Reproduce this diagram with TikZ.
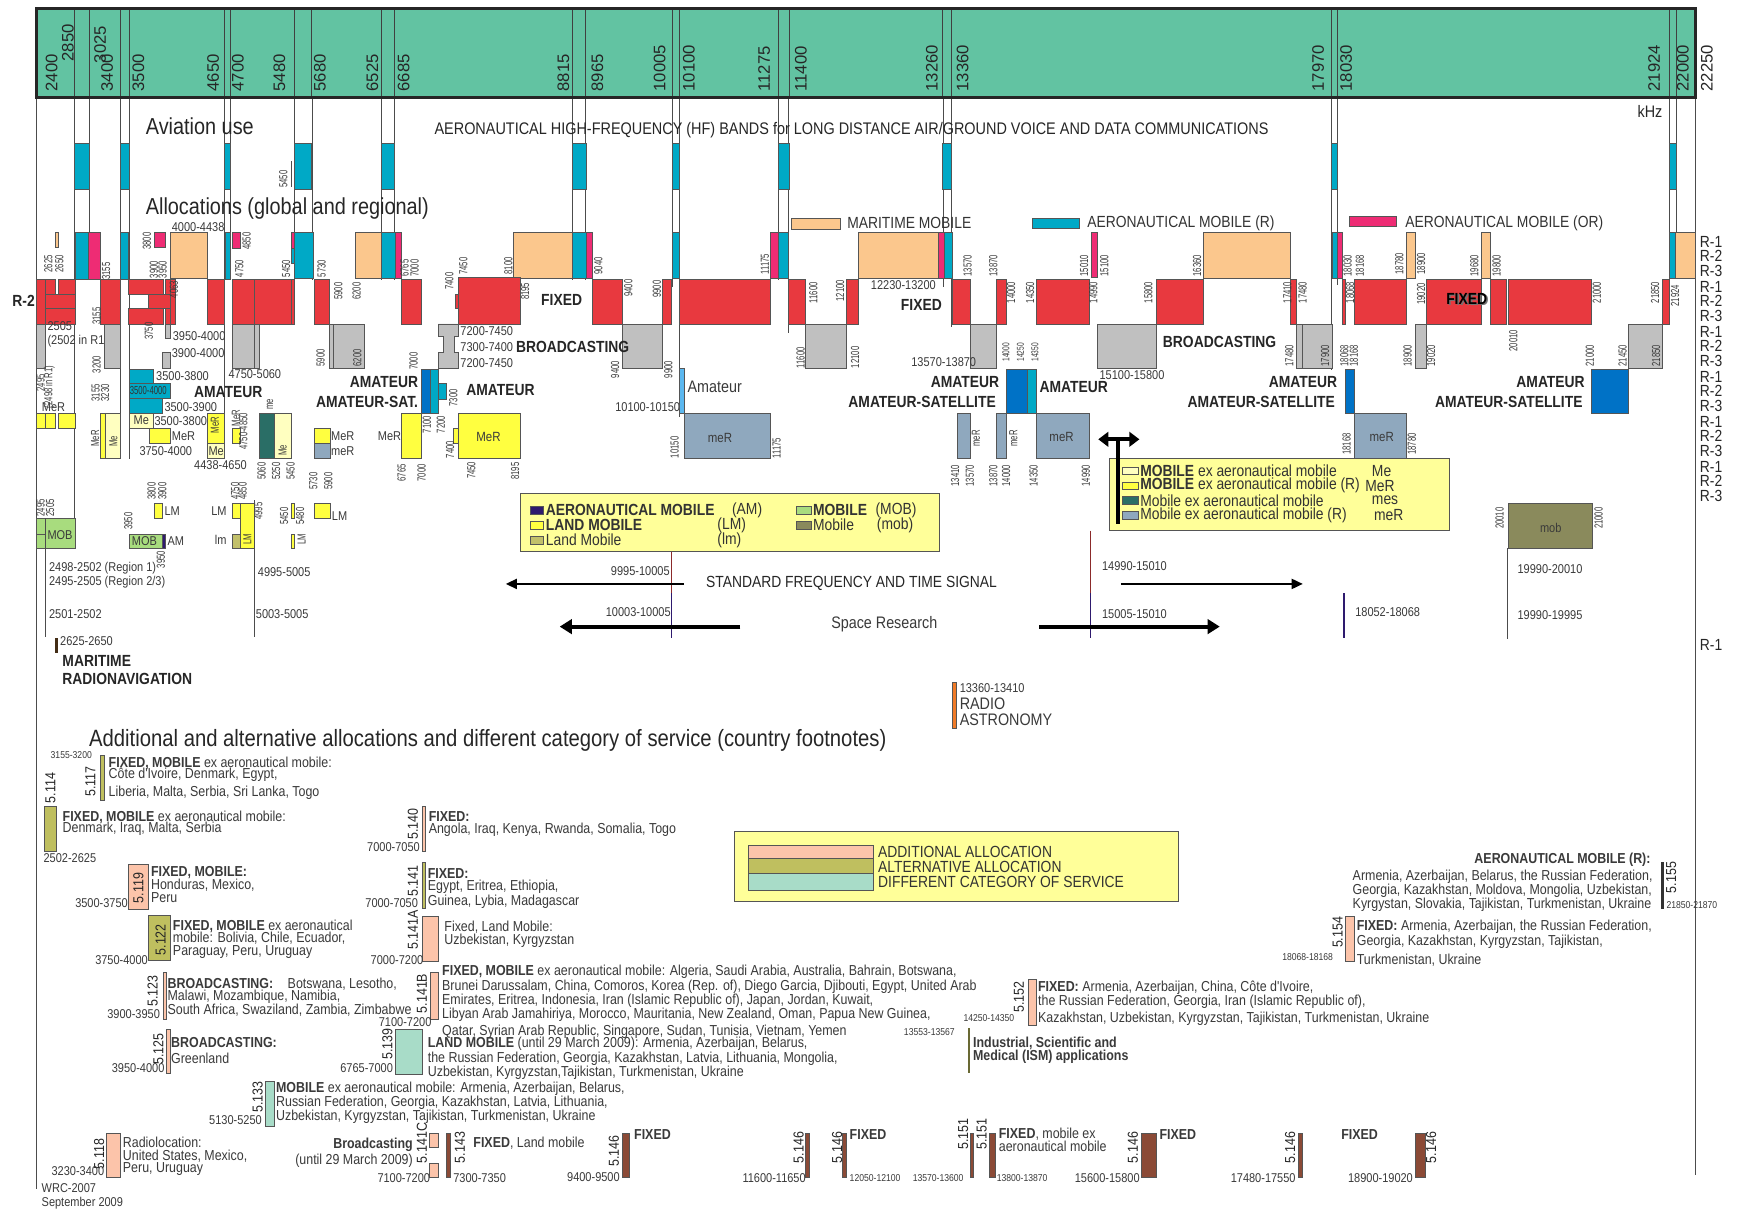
\documentclass[tikz,border=0pt]{standalone}
\usepackage{fontspec}
\setmainfont{Liberation Sans}
\newfontfamily\cn{Liberation Sans}[FakeStretch=0.86]
\newfontfamily\vn{Liberation Sans}[FakeStretch=0.66]
\usetikzlibrary{arrows.meta}
\definecolor{cBand}{HTML}{62C3A2}
\definecolor{cFix}{HTML}{E8393F}
\definecolor{cBro}{HTML}{C0C0C0}
\definecolor{cAmB}{HTML}{0072C6}
\definecolor{cCy}{HTML}{00A9C6}
\definecolor{cPk}{HTML}{EE2C74}
\definecolor{cOr}{HTML}{FBC78D}
\definecolor{cYe}{HTML}{FFFF40}
\definecolor{cLY}{HTML}{FFFFC0}
\definecolor{cGB}{HTML}{8FA8BE}
\definecolor{cTe}{HTML}{2A6E66}
\definecolor{cMob}{HTML}{A8DC7E}
\definecolor{cLm}{HTML}{C2C06A}
\definecolor{cAM}{HTML}{2E1A6E}
\definecolor{cMg}{HTML}{8A8A5C}
\definecolor{cLeg}{HTML}{FFFF99}
\definecolor{cPe}{HTML}{FCC4AA}
\definecolor{cAl}{HTML}{BFBF5F}
\definecolor{cDc}{HTML}{A8DCC8}
\definecolor{cBr}{HTML}{8B4A36}
\definecolor{cRa}{HTML}{F07B28}
\definecolor{cLB}{HTML}{5BB8F0}
\definecolor{cDR}{HTML}{8B2A2A}
\definecolor{txt}{HTML}{3A3A3A}
\definecolor{edge}{HTML}{555555}
\newcommand\bb[5]{\path[bx=#1] (#2,#3) rectangle (#4,#5);}
\tikzset{
 bx/.style={draw=edge,line width=0.5pt,fill=#1},
 vl/.style={draw=black!70,line width=0.6pt},
 vs/.style={rotate=90,anchor=west,inner sep=0pt,text=txt,font=\vn\fontsize{10.5}{10.5}\selectfont},
 vsm/.style={vs,font=\vn\fontsize{9}{9}\selectfont},
 hs/.style={anchor=west,inner sep=0pt,text=txt,font=\cn\fontsize{11.5}{11.5}\selectfont},
 hsm/.style={anchor=west,inner sep=0pt,text=txt,font=\cn\fontsize{9}{9}\selectfont},
 bl/.style={inner sep=0pt,text=black!85,font=\cn\bfseries\fontsize{14.5}{14.5}\selectfont},
 lg/.style={anchor=west,inner sep=0pt,text=black!80,font=\cn\fontsize{14.5}{14.5}\selectfont},
 fn/.style={anchor=north west,align=left,inner sep=0pt,text=txt,font=\cn\fontsize{13}{12}\selectfont},
 fnum/.style={rotate=90,anchor=west,inner sep=0pt,text=black!85,font=\cn\fontsize{13}{13}\selectfont},
 bandlab/.style={rotate=90,anchor=west,inner sep=0pt,text=black!85,font=\fontsize{15}{15}\selectfont},
 ttl/.style={anchor=west,inner sep=0pt,text=black!85,font=\cn\fontsize{20.8}{20}\selectfont},
 rl/.style={anchor=west,inner sep=0pt,text=black!85,font=\cn\fontsize{14.5}{14.5}\selectfont},
}
\begin{document}
\begin{tikzpicture}[x=1pt,y=-1pt]
\fill[white] (0,0) rectangle (1568,1089);
\useasboundingbox (0,0) rectangle (1568,1089);
% ---------- vertical band lines ----------
\foreach \x/\e in {33/1070,67/493,80/251,108/413,116/413,202/413,207/252,265/292,281/252,343/252,355/252,515/252,527/252,605/258,611/375,700/252,709/300,849/258,856/294,1198/333,1203/256,1502/292,1508/250,1525/1057}
  \draw[vl] (\x,88) -- (\x,\e);
% ---------- top band ----------
\fill[cBand] (33,8) rectangle (1525,88);
\foreach \x in {67,80,108,116,202,207,265,280,343,355,515,527,605,611,700,710,848,856,1198,1203,1502,1508}
  \draw[black!75,line width=0.6pt] (\x,8) -- (\x,88);
\draw[black!85,line width=2.6pt] (33,8) rectangle (1525,88);
\foreach \x/\y/\t in {46.5/82.5/2400,61/55.5/2850,90/57/3025,96.4/82.5/3400,124.6/82.5/3500,191.8/82.5/4650,214/82.5/4700,251.3/82.5/5480,287.8/82.5/5680,335/82.5/6525,363.2/82.5/6685,506.8/82.5/8815,537.3/82.5/8965,593.4/82.5/10005,619.8/82.5/10100,687.3/82.5/11275,720.4/82.5/11400,838.4/82.5/13260,866/82.5/13360,1185.7/82.5/17970,1211/82.5/18030,1488/82.5/21924,1514/82.5/22000,1535.6/82.5/22250}
  \node[bandlab] at (\x,\y) {\t};
% ---------- aviation use ----------
\foreach \a/\b in {67/80,108/116,202/207,265/280,343/355,515/527,605/611,700/710,848/856,1198/1203,1502/1508}
  \bb{cCy}{\a}{129}{\b}{170}
\draw[vl] (262,145) -- (262,168);
\node[vs] at (255,169) {5450};
\node[ttl] at (131,114) {Aviation use};
\node[inner sep=0pt,text=black!85,font=\cn\fontsize{15.1}{14}\selectfont] at (766,117) {AERONAUTICAL HIGH-FREQUENCY (HF) BANDS for LONG DISTANCE AIR/GROUND VOICE AND DATA COMMUNICATIONS};
\node[anchor=west,inner sep=0pt,text=black!85,font=\cn\fontsize{15}{15}\selectfont] at (1473,100) {kHz};
\node[ttl] at (131,188) {Allocations (global and regional)};
% legend row
\bb{cOr}{712}{196}{756}{206}
\node[lg] at (762,201) {MARITIME MOBILE};
\bb{cCy}{929}{196}{971}{205}
\node[lg] at (978,201) {AERONAUTICAL MOBILE (R)};
\bb{cPk}{1214}{195}{1256}{204}
\node[lg] at (1264,201) {AERONAUTICAL MOBILE (OR)};
% R labels
\foreach \k in {0,...,5} {
  \node[rl] at (1529,217.5+40.5*\k) {R-1};
  \node[rl] at (1529,230.5+40.5*\k) {R-2};
  \node[rl] at (1529,243.5+40.5*\k) {R-3};
}
\node[rl] at (1529,580) {R-1};
\node[bl,anchor=west] at (11,271) {R-2};
% ---------- mobile row ----------
\bb{cOr}{49.5}{209.3}{52.5}{222}
\bb{cCy}{68}{209.3}{79.5}{251}
\bb{cPk}{79.5}{209.3}{90}{251}
\bb{cCy}{108.5}{209.3}{115.5}{251}
\bb{cPk}{139}{209.3}{149}{222}
\bb{cOr}{153.5}{209.3}{186.5}{250.4}
\bb{cCy}{202.4}{209.3}{207}{251}
\bb{cPk}{209}{209.3}{216}{223.4}
\bb{cPk}{261.8}{209.3}{264.8}{223.4}
\bb{cCy}{261.8}{223.4}{264.8}{237}
\bb{cCy}{264.8}{209.3}{282}{250.4}
\bb{cOr}{319.3}{209.3}{343.3}{250.4}
\bb{cCy}{343.3}{209.3}{355.3}{250.4}
\bb{cPk}{355.3}{209.3}{360.7}{250.4}
\bb{cOr}{461.8}{209.3}{515.2}{250}
\bb{cCy}{515.2}{209.3}{527}{250}
\bb{cPk}{527}{209.3}{533}{250}
\bb{cCy}{605}{209.3}{611}{250}
\bb{cPk}{692.7}{209.3}{700.2}{250}
\bb{cCy}{700.2}{209.3}{709.2}{250}
\bb{cOr}{772.2}{209.3}{844.1}{250}
\bb{cPk}{844.1}{209.3}{849.2}{250}
\bb{cCy}{849.2}{209.3}{856.7}{250}
\bb{cPk}{982.1}{209.3}{987.5}{249}
\bb{cOr}{1082.5}{209.3}{1160.5}{250}
\bb{cCy}{1198.6}{209.3}{1203}{250}
\bb{cPk}{1203}{209.3}{1207.6}{250}
\bb{cOr}{1264.8}{209.3}{1273.5}{250}
\bb{cOr}{1332.6}{209.3}{1341}{250}
\bb{cCy}{1501.4}{209.3}{1507.4}{250}
\bb{cOr}{1507.4}{209.3}{1525}{250}
\node[hs] at (154.4,203.9) {4000-4438};
\node[hs] at (783.3,256.4) {12230-13200};
% ---------- fixed row ----------
\bb{cFix}{32.4}{251.3}{40.5}{291.4}
\bb{cFix}{40.5}{251.3}{49.5}{264.8}
\bb{cFix}{52.5}{251.3}{67.5}{264.8}
\bb{cFix}{40.5}{264.8}{67.5}{277.4}
\bb{cFix}{40.5}{277.4}{67.5}{291.4}
\bb{cFix}{90}{251.3}{108.5}{291.4}
\bb{cFix}{149}{251.3}{153.5}{291.4}
\bb{cFix}{153.5}{251.3}{158}{291.4}
\bb{cFix}{115.4}{251.3}{147}{264.8}
\bb{cFix}{133.4}{264.8}{153.5}{277.4}
\bb{cFix}{115.4}{277.4}{147}{291.4}
\bb{cFix}{186.5}{251.3}{201.5}{291.4}
\bb{cFix}{209}{251.3}{228.8}{291.4}
\bb{cFix}{228.8}{251.3}{261.8}{291.4}
\bb{cFix}{261.8}{251.3}{264.8}{291.4}
\bb{cFix}{282.8}{251.3}{296}{291.4}
\bb{cFix}{361.3}{251.3}{379.3}{291.4}
\bb{cFix}{409.4}{264.5}{412.4}{277.3}
\bb{cFix}{412.4}{249.5}{467.8}{291.4}
\bb{cFix}{532.9}{251.3}{559.9}{291.4}
\bb{cFix}{596.2}{251.3}{603.7}{291.4}
\bb{cFix}{610.9}{251.3}{692.7}{291.4}
\bb{cFix}{709.2}{251.3}{724.2}{291.4}
\bb{cFix}{761.7}{251.3}{772.2}{291.4}
\bb{cFix}{856.7}{251.3}{873.2}{291.4}
\bb{cFix}{896}{251.3}{905}{291.4}
\bb{cFix}{932}{251.3}{980}{291.4}
\bb{cFix}{1040.5}{251.3}{1082.5}{291.4}
\bb{cFix}{1161}{251.3}{1166.5}{291.4}
\bb{cFix}{1207.6}{251.3}{1210.6}{291.4}
\bb{cFix}{1218}{251.3}{1264.8}{291.4}
\bb{cFix}{1282.8}{251.3}{1332.6}{291.4}
\bb{cFix}{1341}{251.3}{1355.4}{291.4}
\bb{cFix}{1356.9}{251.3}{1431.9}{291.4}
\bb{cFix}{1495.4}{251.3}{1501.4}{291.4}
\node[bl,anchor=west] at (486.7,269.9) {FIXED};
\node[bl,anchor=west] at (810.3,274.4) {FIXED};
\node[bl,text=black!55] at (1320.9,270) {FIXED};
\node[bl,text=black] at (1319.4,269) {FIXED};
% ---------- broadcasting row ----------
\bb{cBro}{32.4}{291.4}{40.5}{331.3}
\bb{cBro}{93.6}{291.4}{108.5}{331.3}
\bb{cBro}{149}{291.4}{153.5}{304.3}
\bb{cBro}{146}{317.2}{153.5}{331.3}
\bb{cBro}{209}{291.4}{228.8}{331.3}
\bb{cBro}{228.8}{291.4}{233.3}{331.3}
\bb{cBro}{296}{291.4}{299.9}{331.3}
\bb{cBro}{299.9}{291.4}{327.4}{331.3}
\path[bx=cBro] (394.4,291.4)--(412.4,291.4)--(412.4,302.8)--(408.5,302.8)--(408.5,317.2)--(412.4,317.2)--(412.4,331.3)--(394.4,331.3)--(394.4,317.2)--(398.9,317.2)--(398.9,302.8)--(394.4,302.8)--cycle;
\bb{cBro}{559.9}{291.4}{596.2}{331.3}
\bb{cBro}{724.2}{291.4}{761.7}{331.3}
\bb{cBro}{873.2}{291.4}{896}{331.3}
\bb{cBro}{987.5}{291.4}{1040.5}{331.3}
\bb{cBro}{1166.5}{291.4}{1171.6}{331.3}
\bb{cBro}{1171.6}{291.4}{1198.6}{331.3}
\bb{cBro}{1273.5}{291.4}{1282.8}{331.3}
\bb{cBro}{1464.8}{291.4}{1495.4}{331.3}
\node[bl,anchor=west] at (464,312) {BROADCASTING};
\node[bl,anchor=west] at (1046,307.8) {BROADCASTING};
\foreach \x/\y/\t in {42.6/293.8/2505,155.3/302.8/3950-4000,154.4/317.8/3900-4000,205.4/336.4/4750-5060,414/298.3/7200-7450,414/311.8/7300-7400,414/326.8/7200-7450,819.6/325.6/13570-13870,989/337.6/15100-15800,140.3/337.9/3500-3800,147.8/365.8/3500-3900,553.3/365.8/10100-10150,138.8/378.7/3500-3800,125.3/405.4/3750-4000,174.5/418.3/4438-4650}
  \node[hs] at (\x,\y) {\t};
\node[hs] at (42.6,307.3) {(2502 in R1};
% ---------- amateur row ----------
\bb{cCy}{116}{332.2}{138}{344.8}
\bb{cCy}{116}{344.8}{153.5}{358.3}
\bb{cCy}{116}{358.3}{146}{371.8}
\node[anchor=west,inner sep=0pt,text=black!80,font=\vn\fontsize{10.5}{10.5}\selectfont] at (116.6,351.4) {3500-4000};
\bb{cAmB}{379.4}{332.2}{386.9}{371.8}
\bb{cCy}{386.9}{332.2}{394.4}{371.8}
\bb{cCy}{394.4}{344.8}{401.9}{359.2}
\bb{cLB}{610.9}{331.3}{615.4}{371.8}
\bb{cAmB}{905}{332.2}{924.5}{371.8}
\bb{cCy}{924.5}{332.2}{932}{371.8}
\bb{cAmB}{1210.6}{332.2}{1218}{371.8}
\bb{cAmB}{1431.9}{332.2}{1464.8}{371.8}
\node[bl] at (205.4,352.3) {AMATEUR};
\node[bl,anchor=east] at (376.3,343.3) {AMATEUR};
\node[bl,anchor=east] at (376.3,361.3) {AMATEUR-SAT.};
\node[bl,anchor=west] at (419.3,350.8) {AMATEUR};
\node[lg,text=txt,font=\cn\fontsize{15}{15}\selectfont] at (618.4,347.8) {Amateur};
\node[bl,anchor=east] at (899,343.3) {AMATEUR};
\node[bl,anchor=east] at (896,361.3) {AMATEUR-SATELLITE};
\node[bl,anchor=west] at (935,348.4) {AMATEUR};
\node[bl,anchor=east] at (1203,343.3) {AMATEUR};
\node[bl,anchor=east] at (1201,361.3) {AMATEUR-SATELLITE};
\node[bl,anchor=east] at (1425.8,343.3) {AMATEUR};
\node[bl,anchor=east] at (1423.8,361.3) {AMATEUR-SATELLITE};
% ---------- mobile ex row ----------
\bb{cYe}{32.4}{371.8}{40.5}{385.3}
\bb{cYe}{40.5}{371.8}{49.5}{385.3}
\bb{cYe}{52.5}{371.8}{67.5}{385.3}
\bb{cYe}{90.5}{371.8}{95}{412.3}
\bb{cLY}{95}{371.8}{108}{412.3}
\bb{cLY}{116}{371.8}{138}{385.3}
\bb{cYe}{134}{385.3}{153.5}{398.8}
\bb{cYe}{186.5}{371.8}{201.5}{398.8}
\bb{cLY}{186.5}{398.8}{201.5}{412.3}
\bb{cYe}{209}{385.3}{216.5}{398.8}
\bb{cTe}{233.3}{371.8}{247}{412.3}
\bb{cLY}{247}{371.8}{261.8}{412.3}
\bb{cYe}{282.8}{385.3}{296.9}{398.8}
\bb{cGB}{282.8}{398.8}{296.9}{412.3}
\bb{cYe}{361.3}{371.8}{379.3}{412.3}
\bb{cYe}{407.9}{385.3}{412.4}{398.8}
\bb{cYe}{412.4}{371.8}{467.8}{412.3}
\bb{cGB}{615.4}{371.8}{692.7}{412.3}
\bb{cGB}{861.2}{371.8}{873.2}{412.3}
\bb{cGB}{896}{371.8}{905}{412.3}
\bb{cGB}{932}{371.8}{980}{412.3}
\bb{cGB}{1218}{371.8}{1264.8}{412.3}
\foreach \x/\y/\t in {37.5/366.4/MeR,120/378.4/Me,154.4/392.8/MeR,187.4/406.3/Me,297.7/392.8/MeR,297.7/406.3/meR}
  \node[hs] at (\x,\y) {\t};
\node[hs,anchor=east] at (361,392.8) {MeR};
\foreach \x/\y/\t in {439.4/392.8/MeR,647.7/394/meR,955/392.8/meR,1243/392.8/meR}
  \node[inner sep=0pt,text=txt,font=\cn\fontsize{12}{12}\selectfont] at (\x,\y) {\t};
\foreach \x/\y/\t in {85.5/401.8/MeR,102/401.8/Me,193.4/389.8/MeR,212.3/383.8/MeR,218.9/404.8/4750-4850,242.9/368.8/me,254.3/410/Me,878/401.8/meR,911.6/401.8/meR}
  \node[vs] at (\x,\y) {\t};
% double arrow and its stem
\draw[black,line width=3.5pt] (1005.5,395.2) -- (1005.5,471.4);
\draw[black,line width=3.5pt,{Triangle[width=13pt,length=9pt]}-{Triangle[width=13pt,length=9pt]}] (988,395.2) -- (1025,395.2);
% ---------- rotated frequency labels ----------
\foreach \x/\y/\t in {43.5/245.3/2625,53.4/245.3/2650,95.4/251.9/3155,132/224.9/3800,138.5/250.4/3900,146.3/250.4/3950,156.5/268.4/4063,215.3/249.5/4750,221.9/224.9/4850,257.3/249.5/5450,289.4/249.5/5730,304.3/269.9/5900,320.8/269.9/6200,364/249/6765,373/249/7000,404.3/260.9/7400,416.9/247.4/7450,457.3/247/8100,472.3/270/8195,538.3/247/9040,565.3/267/9400,590.8/268/9900,688.2/247/11175,731.7/273/11600,755.7/271.4/12100,870.5/248.9/13570,893.6/248.9/13870,909.5/272.9/14000,926.6/272.9/14350,975.2/248.9/15010,993.5/248.9/15100,983.6/272.9/14990,1033/272.9/15800,1077/248.9/16360,1158/272.9/17410,1171.9/272.9/17480,1212.4/248.9/18030,1223.4/248.9/18168,1214.5/272.9/18068,1258.8/247/18780,1278.3/247/18900,1278.3/274.4/19020,1326.3/248.9/19680,1346.4/248.9/19800,1436.4/272.9/21000,1488.8/272.9/21850,1506.8/275.8/21924}
  \node[vs] at (\x,\y) {\t};
\foreach \x/\y/\t in {87/292.3/3155,87/335.8/3200,134/305.8/3750,288.5/329.8/5900,321.4/329.8/6200,372/332.8/7000,553.3/340.3/9400,601.3/340.3/9900,720.3/331.3/11600,769.2/331.3/12100,1159.9/329.8/17480,1192/329.8/17900,1209.4/329.8/18068,1218/329.8/18168,1266.3/329.8/18900,1287.3/329.8/19020,1361.4/316.3/20010,1430.3/329.8/21000,1459.7/329.8/21450,1489.7/329.8/21850}
  \node[vs] at (\x,\y) {\t};
\foreach \x/\y/\t in {905/325.3/14000,918/325.3/14250,931/325.3/14350}
  \node[vsm] at (\x,\y) {\t};
\foreach \x/\y/\t in {36.6/352.3/2495,86/361.3/3155,94.5/361.3/3230,383.9/389.8/7100,396.5/389.8/7200,407.9/365.8/7300}
  \node[vs] at (\x,\y) {\t};
\node[vs] at (44.4,367.3) {(2498 in R1)};
\foreach \x/\y/\t in {235.4/431.8/5060,248.3/431.8/5250,261.5/431.8/5450,361.3/433.3/6765,379.3/433.3/7000,404.9/412.3/7400,424/431/7450,463.4/431.8/8195,606.8/412.3/10150,698.6/412.3/11175,859.2/437.8/13410,872.4/437.8/13570,893.6/437.8/13870,905.1/437.8/14000,929.8/437.8/14350,976.8/437.8/14990,1211.5/409.3/18168,1270/409.3/18780}
  \node[vs] at (\x,\y) {\t};
\foreach \x/\y/\t in {36.6/464.8/2495,45/464.8/2505,136.4/449.8/3800,146/449.8/3900,115.4/476.8/3950,144.8/511.2/3950,211.4/449.8/4750,218.3/449.8/4850,232.4/467.8/4995,255.5/472.3/5450,269.9/472.3/5480,281.9/440.8/5730,295.4/440.8/5900,1349/476/20010,1438/476/21000}
  \node[vs] at (\x,\y) {\t};
% ---------- LM / MOB row ----------
\bb{cMob}{32.4}{466.3}{40.5}{493.3}
\bb{cMob}{40.5}{466.3}{67.5}{493.3}
\draw[edge,line width=0.5pt] (32.4,480.4) -- (40.5,480.4);
\node[inner sep=0pt,text=txt,font=\cn\fontsize{11.5}{11.5}\selectfont] at (54,481) {MOB};
\bb{cYe}{138.5}{452.8}{146}{466.3}
\bb{cMob}{116}{480.4}{146}{493.3}
\bb{cAM}{146}{480.4}{149}{493.3}
\node[inner sep=0pt,text=txt,font=\cn\fontsize{11.5}{11.5}\selectfont] at (130,487) {MOB};
\bb{cYe}{209}{452.8}{216.5}{466.3}
\bb{cYe}{216.5}{452.8}{228.8}{493.3}
\bb{cLm}{209}{480.4}{216.5}{493.3}
\bb{cYe}{261.8}{452.8}{264.8}{466.3}
\bb{cYe}{261.8}{480.4}{264.8}{493.3}
\bb{cYe}{282.8}{452.8}{296.9}{466.3}
\bb{cMg}{1357}{453}{1432}{493}
\node[inner sep=0pt,text=txt,font=\cn\fontsize{11.5}{11.5}\selectfont] at (1395,475) {mob};
\foreach \x/\y/\t in {147.8/459.5/LM,150.5/486.7/AM,298.4/464/LM}
  \node[hs] at (\x,\y) {\t};
\node[hs,anchor=east] at (204,459.5) {LM};
\node[hs,anchor=east] at (204,486) {lm};
\node[vs] at (222.6,490) {LM};
\node[vs] at (271.4,490.3) {LM};
% ---------- legends 1 and 2 ----------
\path[fill=cLeg,draw=edge,line width=0.8pt] (468,443.8) rectangle (844.7,496.3);
\bb{cAM}{477}{455.5}{489}{462.5}
\bb{cYe}{477}{469}{489}{476}
\bb{cLm}{477}{482.3}{489}{489.3}
\bb{cMob}{716}{455.5}{730}{462.5}
\bb{cMg}{716}{469}{730}{476}
\node[lg,font=\cn\bfseries\fontsize{14.5}{14.5}\selectfont] at (490.9,459) {AERONAUTICAL MOBILE};
\node[lg] at (658.4,459) {(AM)};
\node[lg,font=\cn\bfseries\fontsize{14.5}{14.5}\selectfont] at (490.9,472.4) {LAND MOBILE};
\node[lg] at (645.2,472.4) {(LM)};
\node[lg] at (490.9,485.8) {Land Mobile};
\node[lg] at (645.2,485.8) {(lm)};
\node[lg,font=\cn\bfseries\fontsize{14.5}{14.5}\selectfont] at (731.3,459) {MOBILE};
\node[lg] at (787.5,459) {(MOB)};
\node[lg] at (731.3,472.4) {Mobile};
\node[lg] at (788.7,472.4) {(mob)};
\path[fill=cLeg,draw=edge,line width=0.8pt] (998.1,412.3) rectangle (1303.9,477.4);
\draw[black,line width=3.5pt] (1005.5,405) -- (1005.5,471.4);
\bb{cLY}{1010}{420.2}{1024}{426.8}
\bb{cYe}{1010}{433.5}{1024}{440.1}
\bb{cTe}{1010}{446.8}{1024}{453.4}
\bb{cGB}{1010}{460.1}{1024}{466.7}
\node[lg] at (1025.6,423.5) {\textbf{MOBILE} ex aeronautical mobile};
\node[lg] at (1025.6,436.8) {\textbf{MOBILE} ex aeronautical mobile (R)};
\node[lg] at (1025.6,450.1) {Mobile ex aeronautical mobile};
\node[lg] at (1025.6,463.4) {Mobile ex aeronautical mobile (R)};
\node[lg] at (1234,423.5) {Me};
\node[lg] at (1228,436.8) {MeR};
\node[lg] at (1234,450.1) {mes};
\node[lg] at (1236,463.4) {meR};
% ---------- standard frequency / space research ----------
\draw[cDR,line width=1pt] (604,496.3) -- (604,533.7);
\draw[cAM,line width=1pt] (604,533.7) -- (604,574.2);
\draw[cDR,line width=1pt] (980.9,477.4) -- (980.9,533.7);
\draw[cAM,line width=1pt] (980.9,533.7) -- (980.9,574.2);
\draw[cAM,line width=1.4pt] (1209.2,533.7) -- (1209.2,574.2);
\draw[black!70,line width=1pt] (1356,493) -- (1356,575);
\draw[vl] (40.5,466.3) -- (40.5,572.7);
\draw[vl] (228.8,449.8) -- (228.8,572.7);
\draw[black,line width=1.8pt,-{Triangle[width=9pt,length=10pt]}] (615.4,525.3) -- (455,525.3);
\draw[black,line width=1.8pt,-{Triangle[width=9pt,length=10pt]}] (1008.4,525.3) -- (1172,525.3);
\draw[black,line width=3.6pt,-{Triangle[width=13pt,length=11pt]}] (666,563.7) -- (503.5,563.7);
\draw[black,line width=3.6pt,-{Triangle[width=13pt,length=11pt]}] (935,563.7) -- (1097.3,563.7);
\node[inner sep=0pt,text=black!85,font=\cn\fontsize{14.5}{14.5}\selectfont] at (766,525) {STANDARD FREQUENCY AND TIME SIGNAL};
\node[inner sep=0pt,text=txt,font=\cn\fontsize{15}{15}\selectfont] at (795.5,561.3) {Space Research};
\foreach \x/\y/\t in {549.4/514.2/9995-10005,544.8/550.2/10003-10005,991.2/509.7/14990-15010,991.2/552.6/15005-15010,1219/550.2/18052-18068,1365/512/19990-20010,1365/553/19990-19995,44/552.6/2501-2502,54/576.3/2625-2650,231.8/514.5/4995-5005,230/552.6/5003-5005,863.2/619.2/13360-13410}
  \node[hs] at (\x,\y) {\t};
\node[hs] at (44,511.2) {2498-2502 (Region 1)};
\node[hs] at (44,524.1) {2495-2505 (Region 2/3)};
\fill[black!65!brown] (49.5,574.2) rectangle (52.5,587.7);
\node[bl,anchor=west] at (56,594.3) {MARITIME};
\node[bl,anchor=west] at (56,611.1) {RADIONAVIGATION};
\bb{cRa}{856.4}{614.1}{860.5}{655.2}
\node[lg,text=txt,font=\cn\fontsize{15}{15}\selectfont] at (863.2,633.3) {RADIO};
\node[lg,text=txt,font=\cn\fontsize{15}{15}\selectfont] at (863.2,647.7) {ASTRONOMY};
% ---------- footnotes ----------
\node[ttl,font=\cn\fontsize{21.2}{20}\selectfont] at (80,666) {Additional and alternative allocations and different category of service (country footnotes)};
\bb{cAl}{90.4}{679.2}{93.6}{719.7}
\node[hsm] at (45.4,679.2) {3155-3200};
\node[fnum] at (81.5,716.7) {5.117};
\node[fn] at (97.6,681) {\textbf{FIXED, MOBILE} ex aeronautical mobile:\\[-2pt]Côte d'Ivoire, Denmark, Egypt,\\[3pt]Liberia, Malta, Serbia, Sri Lanka, Togo};
\bb{cAl}{40.2}{725.1}{50.2}{766.1}
\node[fnum] at (45.4,722.7) {5.114};
\node[hs] at (39,772.1) {2502-2625};
\node[fn] at (56.2,729) {\textbf{FIXED, MOBILE} ex aeronautical mobile:\\[-2pt]Denmark, Iraq, Malta, Serbia};
\bb{cPe}{115.7}{777.2}{133.7}{818}
\node[fnum] at (124.5,812.6) {5.119};
\node[hs] at (67.5,812) {3500-3750};
\node[fn] at (135.7,779) {\textbf{FIXED, MOBILE:}\\Honduras, Mexico,\\Peru};
\bb{cAl}{133.7}{823.1}{153.4}{863.6}
\node[fnum] at (144.6,859.6) {5.122};
\node[hs] at (85.5,863.6) {3750-4000};
\node[fn] at (155.4,827) {\textbf{FIXED, MOBILE} ex aeronautical\\[-0.5pt]mobile: Bolivia, Chile, Ecuador,\\[-0.5pt]Paraguay, Peru, Uruguay};
\bb{cPe}{146.6}{875}{149.4}{917}
\node[fnum] at (137.3,905.6) {5.123};
\node[hs] at (96.4,912.2) {3900-3950};
\node[fn] at (150.6,879.6) {\textbf{BROADCASTING:}\quad Botswana, Lesotho,\\[-1pt]Malawi, Mozambique, Namibia,\\[-1pt]South Africa, Swaziland, Zambia, Zimbabwe};
\bb{cPe}{149.4}{926}{153.4}{965.6}
\node[fnum] at (142.6,958) {5.125};
\node[hs] at (100.4,960.5) {3950-4000};
\node[fn] at (153.8,933) {\textbf{BROADCASTING:}\\[2pt]Greenland};
\bb{cDc}{238.2}{973}{247}{1013.5}
\node[fnum] at (231.7,1001) {5.133};
\node[hs] at (188,1007.5) {5130-5250};
\node[fn] at (248.2,973.4) {\textbf{MOBILE} ex aeronautical mobile: Armenia, Azerbaijan, Belarus,\\[-0.5pt]Russian Federation, Georgia, Kazakhstan, Latvia, Lithuania,\\[-0.5pt]Uzbekistan, Kyrgyzstan, Tajikistan, Turkmenistan, Ukraine};
\bb{cPe}{95.2}{1019.5}{108.4}{1059.1}
\node[fnum] at (89.2,1052) {5.118};
\node[hs] at (46.2,1053.4) {3230-3400};
\node[fn] at (110.4,1023) {Radiolocation:\\[-1pt]United States, Mexico,\\[-0.5pt]Peru, Uruguay};
\node[hs] at (37.3,1069) {WRC-2007};
\node[hs] at (37.3,1082) {September 2009};
\bb{cPe}{379.5}{725.7}{382.3}{766.1}
\node[fnum] at (371.5,755.6) {5.140};
\node[hs] at (330.1,761.7) {7000-7050};
\node[fn] at (385.5,730.3) {\textbf{FIXED:}\\[-1.3pt]Angola, Iraq, Kenya, Rwanda, Somalia, Togo};
\bb{cAl}{379.5}{776}{382.3}{817.1}
\node[fnum] at (371.5,806.6) {5.141};
\node[hs] at (328.5,812) {7000-7050};
\node[fn] at (384.7,781.2) {\textbf{FIXED:}\\[-1pt]Egypt, Eritrea, Ethiopia,\\Guinea, Lybia, Madagascar};
\bb{cPe}{379.5}{824.6}{394.4}{865.1}
\node[fnum] at (371.5,854.6) {5.141A};
\node[hs] at (333.3,863.6) {7000-7200};
\node[fn] at (399.6,828) {Fixed, Land Mobile:\\Uzbekistan, Kyrgyzstan};
\bb{cPe}{386.7}{875}{394.4}{917}
\node[fnum] at (379.5,911.6) {5.141B};
\node[hs] at (340.6,919.1) {7100-7200};
\node[fn] at (397.6,868.2) {\textbf{FIXED, MOBILE} ex aeronautical mobile: Algeria, Saudi Arabia, Australia, Bahrain, Botswana,\\Brunei Darussalam, China, Comoros, Korea (Rep. of), Diego Garcia, Djibouti, Egypt, United Arab\\[-0.5pt]Emirates, Eritrea, Indonesia, Iran (Islamic Republic of), Japan, Jordan, Kuwait,\\[-0.5pt]Libyan Arab Jamahiriya, Morocco, Mauritania, New Zealand, Oman, Papua New Guinea,\\[2.4pt]Qatar, Syrian Arab Republic, Singapore, Sudan, Tunisia, Vietnam, Yemen};
\bb{cDc}{355.4}{926}{379.5}{966.2}
\node[fnum] at (348.6,953.6) {5.139};
\node[hs] at (306,961.1) {6765-7000};
\node[fn] at (384.7,933) {\textbf{LAND MOBILE} (until 29 March 2009): Armenia, Azerbaijan, Belarus,\\the Russian Federation, Georgia, Kazakhstan, Latvia, Lithuania, Mongolia,\\Uzbekistan, Kyrgyzstan,Tajikistan, Turkmenistan, Ukraine};
\node[fn,anchor=north east,align=right] at (371.5,1023.5) {\textbf{Broadcasting}\\[1.5pt](until 29 March 2009)};
\bb{cPe}{386.3}{1019.5}{394.4}{1032}
\bb{cPe}{386.3}{1046.5}{394.4}{1059.1}
\node[fnum] at (379.5,1046.5) {5.141C};
\node[hs] at (339.4,1060) {7100-7200};
\bb{cBr}{401.6}{1019.5}{404.8}{1059.1}
\node[fnum] at (413.7,1046.5) {5.143};
\node[hs] at (407.6,1060) {7300-7350};
\node[fn] at (425.7,1023) {\textbf{FIXED}, Land mobile};
\bb{cBr}{560.2}{1019.5}{566.3}{1059.1}
\node[fnum] at (552.2,1049.5) {5.146};
\node[hs] at (510,1058.5) {9400-9500};
\node[fn] at (570.3,1016) {\textbf{FIXED}};
\bb{cBr}{724.5}{1019.5}{727.6}{1059.1}
\node[fnum] at (718.4,1046.5) {5.146};
\node[hs] at (667.8,1060) {11600-11650};
\bb{cBr}{758}{1019.5}{761.1}{1059.1}
\node[fnum] at (753.2,1046.5) {5.146};
\node[hsm] at (764.2,1060) {12050-12100};
\node[fn] at (764.2,1016) {\textbf{FIXED}};
\bb{cBr}{872.7}{1019.5}{875.2}{1059.1}
\node[fnum] at (866.6,1034.5) {5.151};
\bb{cBr}{889.8}{1019.5}{895.3}{1059.1}
\node[fnum] at (883.1,1034.5) {5.151};
\node[hsm] at (820.9,1060) {13570-13600};
\node[hsm] at (896.5,1060) {13800-13870};
\node[fn] at (898.4,1014.5) {\textbf{FIXED}, mobile ex\\[-0.5pt]aeronautical mobile};
\bb{cBr}{1026.4}{1019.5}{1040.5}{1059.1}
\node[fnum] at (1019.1,1046.5) {5.146};
\node[hs] at (966.7,1060) {15600-15800};
\node[fn] at (1042.9,1016) {\textbf{FIXED}};
\bb{cBr}{1167.9}{1019.5}{1171.6}{1059.1}
\node[fnum] at (1160.6,1046.5) {5.146};
\node[hs] at (1107,1060) {17480-17550};
\node[fn] at (1206.4,1016) {\textbf{FIXED}};
\bb{cBr}{1273.4}{1019.5}{1282.6}{1059.1}
\node[fnum] at (1287.5,1046.5) {5.146};
\node[hs] at (1212.5,1060) {18900-19020};
% legend 3
\path[fill=cLeg,draw=edge,line width=0.8pt] (660.5,748.2) rectangle (1060,810.5);
\bb{cPe}{672.7}{760.2}{785.5}{772.1}
\bb{cAl}{672.7}{772.1}{785.5}{785.6}
\bb{cDc}{672.7}{785.6}{785.5}{800.6}
\node[lg] at (789.8,766.2) {ADDITIONAL ALLOCATION};
\node[lg] at (789.8,780.2) {ALTERNATIVE ALLOCATION};
\node[lg] at (789.8,793.1) {DIFFERENT CATEGORY OF SERVICE};
% right-side footnotes
\bb{cPe}{924.6}{881}{931.9}{922.1}
\node[fnum] at (916.7,911) {5.152};
\node[hsm] at (866.6,916.1) {14250-14350};
\node[fn] at (933.7,882.6) {\textbf{FIXED:} Armenia, Azerbaijan, China, Côte d'Ivoire,\\[-0.6pt]the Russian Federation, Georgia, Iran (Islamic Republic of),\\[2pt]Kazakhstan, Uzbekistan, Kyrgyzstan, Tajikistan, Turkmenistan, Ukraine};
\fill[cAl!55!black] (870.9,925) rectangle (873,965.5);
\node[hsm] at (813,928.1) {13553-13567};
\node[fn] at (875.2,933) {\textbf{Industrial, Scientific and}\\[-1pt]\textbf{Medical (ISM) applications}};
\bb{cPe}{1210.6}{824.6}{1218.6}{865.1}
\node[fnum] at (1203.3,853) {5.154};
\node[hsm] at (1153.3,861.2) {18068-18168};
\node[fn] at (1220.4,827.1) {\textbf{FIXED:} Armenia, Azerbaijan, the Russian Federation,\\[1pt]Georgia, Kazakhstan, Kyrgyzstan, Tajikistan,\\[3.6pt]Turkmenistan, Ukraine};
\node[fn,anchor=east] at (1485,773.6) {\textbf{AERONAUTICAL MOBILE (R):}};
\node[fn] at (1216.7,782.1) {Armenia, Azerbaijan, Belarus, the Russian Federation,\\[-0.6pt]Georgia, Kazakhstan, Moldova, Mongolia, Uzbekistan,\\Kyrgystan, Slovakia, Tajikistan, Turkmenistan, Ukraine};
\fill[black!80] (1494.2,775.1) rectangle (1496.5,818);
\node[fnum] at (1503.4,803.6) {5.155};
\node[hsm] at (1499,814.1) {21850-21870};
\end{tikzpicture}
\end{document}
